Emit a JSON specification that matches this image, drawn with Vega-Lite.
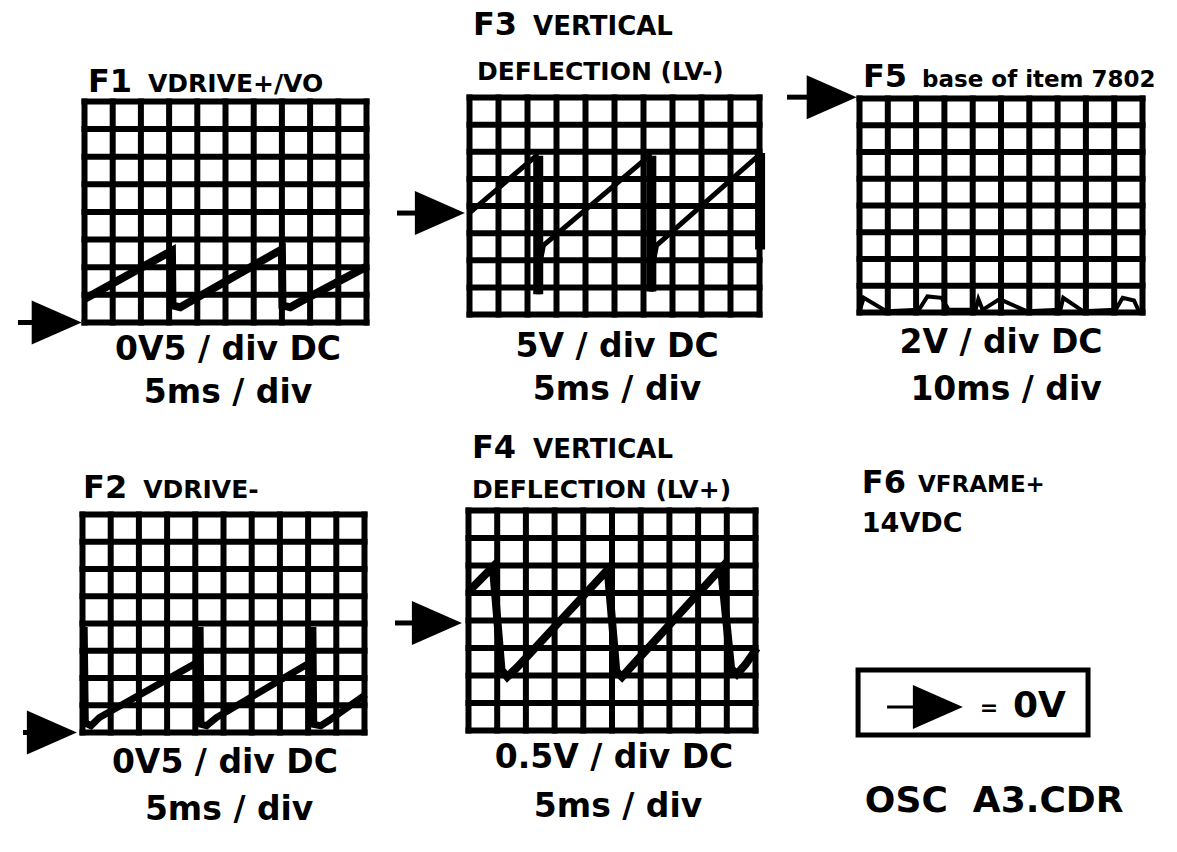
{
  "$schema": "https://vega.github.io/schema/vega-lite/v6.json",
  "padding": 0,
  "autosize": {"type": "pad"},
  "background": "white",
  "data": {"values": [{}]},
  "datasets": {
    "vgrid": [{"k":0},{"k":1},{"k":2},{"k":3},{"k":4},{"k":5},{"k":6},{"k":7},{"k":8},{"k":9},{"k":10}],
    "hgrid": [{"k":0},{"k":1},{"k":2},{"k":3},{"k":4},{"k":5},{"k":6},{"k":7},{"k":8}],
    "f1": [{"t":0,"v":0.85},{"t":3.1,"v":2.6},{"t":3.12,"v":0.62},{"t":3.4,"v":0.55},{"t":3.65,"v":0.7},{"t":7.0,"v":2.65},{"t":7.02,"v":0.62},{"t":7.3,"v":0.55},{"t":7.65,"v":0.75},{"t":10.05,"v":2.05}],
    "f2": [{"t":0.06,"v":3.87},{"t":0.1,"v":0.35},{"t":0.3,"v":0.25},{"t":0.6,"v":0.55},{"t":4.12,"v":2.6},{"t":4.17,"v":3.87},{"t":4.2,"v":0.3},{"t":4.4,"v":0.25},{"t":4.75,"v":0.55},{"t":8.12,"v":2.6},{"t":8.17,"v":3.87},{"t":8.2,"v":0.3},{"t":8.45,"v":0.25},{"t":8.75,"v":0.45},{"t":10.05,"v":1.4}],
    "f3": [{"t":0,"v":3.75},{"t":2.3,"v":5.85},{"t":2.37,"v":0.75},{"t":2.45,"v":2.0},{"t":2.55,"v":2.55},{"t":6.2,"v":5.85},{"t":6.27,"v":0.85},{"t":6.35,"v":2.0},{"t":6.45,"v":2.55},{"t":9.95,"v":5.85},{"t":10.02,"v":2.4}],
    "f3bar": [{"t":2.37,"lo":0.75,"hi":5.85},{"t":6.27,"lo":0.85,"hi":5.85},{"t":10.02,"lo":2.4,"hi":5.95}],
    "f4": [{"t":0,"v":5.05},{"t":0.85,"v":5.95},{"t":1.15,"v":2.2},{"t":1.35,"v":1.95},{"t":1.7,"v":2.3},{"t":4.85,"v":5.85},{"t":5.15,"v":2.15},{"t":5.35,"v":1.95},{"t":5.65,"v":2.3},{"t":8.8,"v":5.9},{"t":9.15,"v":2.25},{"t":9.35,"v":2.05},{"t":9.65,"v":2.4},{"t":10.05,"v":3.0}],
    "f5": [{"t":0,"v":0.05},{"t":0.15,"v":0.55},{"t":0.95,"v":0.05},{"t":2.1,"v":0.1},{"t":2.4,"v":0.6},{"t":2.9,"v":0.55},{"t":3.15,"v":0.1},{"t":4.1,"v":0.1},{"t":4.2,"v":0.5},{"t":4.35,"v":0.1},{"t":4.95,"v":0.5},{"t":5.9,"v":0.05},{"t":7.1,"v":0.1},{"t":7.2,"v":0.55},{"t":7.9,"v":0.05},{"t":9.05,"v":0.1},{"t":9.3,"v":0.55},{"t":9.7,"v":0.45},{"t":9.85,"v":0.1},{"t":10,"v":0.05}]
  },
  "columns": 3,
  "spacing": 0,
  "bounds": "flush",
  "align": "each",
  "config": {
    "view": {"stroke": null},
    "axis": {"disable": true},
    "text": {"font": "DejaVu Sans", "fontWeight": "bold", "baseline": "alphabetic", "color": "black"},
    "rule": {"color": "black"},
    "line": {"color": "black"},
    "rect": {"color": "black"},
    "point": {"color": "black"}
  },
  "concat": [
    {
      "width": 420, "height": 440,
      "layer": [
        {"data": {"name": "vgrid"}, "mark": {"type": "rule", "strokeWidth": 6, "strokeCap": "square"},
         "encoding": {"x": {"field": "k", "type": "quantitative", "scale": {"domain": [-2.9965, 11.8972], "nice": false, "zero": false}},
                      "y": {"datum": 0, "scale": {"domain": [-4.2534, 11.6742], "nice": false, "zero": false}}, "y2": {"datum": 8}}},
        {"data": {"name": "hgrid"}, "mark": {"type": "rule", "strokeWidth": 6, "strokeCap": "square"},
         "encoding": {"y": {"field": "k", "type": "quantitative"}, "x": {"datum": 0}, "x2": {"datum": 10}}},
        {"data": {"name": "f1"}, "mark": {"type": "line", "strokeWidth": 8},
         "encoding": {"x": {"field": "t", "type": "quantitative"}, "y": {"field": "v", "type": "quantitative"}}},
        {"mark": {"type": "rule", "strokeWidth": 5}, "encoding": {"x": {"datum": -2.36}, "x2": {"datum": -1.7}, "y": {"datum": 0}}},
        {"mark": {"type": "point", "shape": "M -2 -0.88 L 0 0 L -2 0.88 Z", "size": 2500, "filled": true, "opacity": 1},
         "encoding": {"x": {"datum": -0.1}, "y": {"datum": 0}}},
        {"mark": {"type": "text", "fontSize": 32, "align": "left", "text": "F1"}, "encoding": {"x": {"datum": 0.12}, "y": {"datum": 8.34}}},
        {"mark": {"type": "text", "fontSize": 25, "align": "left", "text": "VDRIVE+/VO"}, "encoding": {"x": {"datum": 2.25}, "y": {"datum": 8.34}}},
        {"mark": {"type": "text", "fontSize": 33, "align": "center", "text": "0V5 / div DC"}, "encoding": {"x": {"datum": 5.09}, "y": {"datum": -1.36}}},
        {"mark": {"type": "text", "fontSize": 33, "align": "center", "text": "5ms / div"}, "encoding": {"x": {"datum": 5.09}, "y": {"datum": -2.91}}}
      ]
    },
    {
      "width": 380, "height": 440,
      "layer": [
        {"data": {"name": "vgrid"}, "mark": {"type": "rule", "strokeWidth": 6, "strokeCap": "square"},
         "encoding": {"x": {"field": "k", "type": "quantitative", "scale": {"domain": [-1.7069, 11.3966], "nice": false, "zero": false}},
                      "y": {"datum": 0, "scale": {"domain": [-4.6267, 11.5945], "nice": false, "zero": false}}, "y2": {"datum": 8}}},
        {"data": {"name": "hgrid"}, "mark": {"type": "rule", "strokeWidth": 6, "strokeCap": "square"},
         "encoding": {"y": {"field": "k", "type": "quantitative"}, "x": {"datum": 0}, "x2": {"datum": 10}}},
        {"data": {"name": "f3"}, "mark": {"type": "line", "strokeWidth": 5},
         "encoding": {"x": {"field": "t", "type": "quantitative"}, "y": {"field": "v", "type": "quantitative"}}},
        {"data": {"name": "f3bar"}, "mark": {"type": "rule", "strokeWidth": 10},
         "encoding": {"x": {"field": "t", "type": "quantitative"}, "y": {"field": "lo", "type": "quantitative"}, "y2": {"field": "hi"}}},
        {"mark": {"type": "rule", "strokeWidth": 5}, "encoding": {"x": {"datum": -2.5}, "x2": {"datum": -1.8}, "y": {"datum": 3.74}}},
        {"mark": {"type": "point", "shape": "M -2 -0.88 L 0 0 L -2 0.88 Z", "size": 2500, "filled": true, "opacity": 1},
         "encoding": {"x": {"datum": -0.16}, "y": {"datum": 3.74}}},
        {"mark": {"type": "text", "fontSize": 32, "align": "left", "text": "F3"}, "encoding": {"x": {"datum": 0.12}, "y": {"datum": 10.3}}},
        {"mark": {"type": "text", "fontSize": 26, "align": "left", "text": "VERTICAL"}, "encoding": {"x": {"datum": 2.19}, "y": {"datum": 10.3}}},
        {"mark": {"type": "text", "fontSize": 25, "align": "left", "text": "DEFLECTION (LV-)"}, "encoding": {"x": {"datum": 0.26}, "y": {"datum": 8.65}}},
        {"mark": {"type": "text", "fontSize": 33, "align": "center", "text": "5V / div DC"}, "encoding": {"x": {"datum": 5.09}, "y": {"datum": -1.57}}},
        {"mark": {"type": "text", "fontSize": 33, "align": "center", "text": "5ms / div"}, "encoding": {"x": {"datum": 5.09}, "y": {"datum": -3.15}}}
      ]
    },
    {
      "width": 377, "height": 440,
      "layer": [
        {"data": {"name": "vgrid"}, "mark": {"type": "rule", "strokeWidth": 6, "strokeCap": "square"},
         "encoding": {"x": {"field": "k", "type": "quantitative", "scale": {"domain": [-2.1025, 11.2191], "nice": false, "zero": false}},
                      "y": {"datum": 0, "scale": {"domain": [-4.7664, 11.6822], "nice": false, "zero": false}}, "y2": {"datum": 8}}},
        {"data": {"name": "hgrid"}, "mark": {"type": "rule", "strokeWidth": 6, "strokeCap": "square"},
         "encoding": {"y": {"field": "k", "type": "quantitative"}, "x": {"datum": 0}, "x2": {"datum": 10}}},
        {"data": {"name": "f5"}, "mark": {"type": "line", "strokeWidth": 4},
         "encoding": {"x": {"field": "t", "type": "quantitative"}, "y": {"field": "v", "type": "quantitative"}}},
        {"mark": {"type": "rule", "strokeWidth": 5}, "encoding": {"x": {"datum": -2.56}, "x2": {"datum": -1.8}, "y": {"datum": 8.05}}},
        {"mark": {"type": "point", "shape": "M -2 -0.88 L 0 0 L -2 0.88 Z", "size": 2500, "filled": true, "opacity": 1},
         "encoding": {"x": {"datum": -0.1}, "y": {"datum": 8.05}}},
        {"mark": {"type": "text", "fontSize": 32, "align": "left", "text": "F5"}, "encoding": {"x": {"datum": 0.12}, "y": {"datum": 8.43}}},
        {"mark": {"type": "text", "fontSize": 23, "align": "left", "text": "base of item 7802"}, "encoding": {"x": {"datum": 2.21}, "y": {"datum": 8.43}}},
        {"mark": {"type": "text", "fontSize": 33, "align": "center", "text": "2V / div DC"}, "encoding": {"x": {"datum": 5.0}, "y": {"datum": -1.51}}},
        {"mark": {"type": "text", "fontSize": 33, "align": "center", "text": "10ms / div"}, "encoding": {"x": {"datum": 5.18}, "y": {"datum": -3.27}}}
      ]
    },
    {
      "width": 420, "height": 412,
      "layer": [
        {"data": {"name": "vgrid"}, "mark": {"type": "rule", "strokeWidth": 6, "strokeCap": "square"},
         "encoding": {"x": {"field": "k", "type": "quantitative", "scale": {"domain": [-2.9255, 11.9681], "nice": false, "zero": false}},
                      "y": {"datum": 0, "scale": {"domain": [-4.3853, 10.7339], "nice": false, "zero": false}}, "y2": {"datum": 8}}},
        {"data": {"name": "hgrid"}, "mark": {"type": "rule", "strokeWidth": 6, "strokeCap": "square"},
         "encoding": {"y": {"field": "k", "type": "quantitative"}, "x": {"datum": 0}, "x2": {"datum": 10}}},
        {"data": {"name": "f2"}, "mark": {"type": "line", "strokeWidth": 7},
         "encoding": {"x": {"field": "t", "type": "quantitative"}, "y": {"field": "v", "type": "quantitative"}}},
        {"mark": {"type": "rule", "strokeWidth": 5}, "encoding": {"x": {"datum": -2.11}, "x2": {"datum": -1.8}, "y": {"datum": 0}}},
        {"mark": {"type": "point", "shape": "M -2 -0.88 L 0 0 L -2 0.88 Z", "size": 2500, "filled": true, "opacity": 1},
         "encoding": {"x": {"datum": -0.2}, "y": {"datum": 0}}},
        {"mark": {"type": "text", "fontSize": 32, "align": "left", "text": "F2"}, "encoding": {"x": {"datum": 0.02}, "y": {"datum": 8.61}}},
        {"mark": {"type": "text", "fontSize": 25, "align": "left", "text": "VDRIVE-"}, "encoding": {"x": {"datum": 2.15}, "y": {"datum": 8.61}}},
        {"mark": {"type": "text", "fontSize": 33, "align": "center", "text": "0V5 / div DC"}, "encoding": {"x": {"datum": 5.05}, "y": {"datum": -1.49}}},
        {"mark": {"type": "text", "fontSize": 33, "align": "center", "text": "5ms / div"}, "encoding": {"x": {"datum": 5.2}, "y": {"datum": -3.21}}}
      ]
    },
    {
      "width": 380, "height": 412,
      "layer": [
        {"data": {"name": "vgrid"}, "mark": {"type": "rule", "strokeWidth": 6, "strokeCap": "square"},
         "encoding": {"x": {"field": "k", "type": "quantitative", "scale": {"domain": [-1.6899, 11.5505], "nice": false, "zero": false}},
                      "y": {"datum": 0, "scale": {"domain": [-4.4182, 10.5636], "nice": false, "zero": false}}, "y2": {"datum": 8}}},
        {"data": {"name": "hgrid"}, "mark": {"type": "rule", "strokeWidth": 6, "strokeCap": "square"},
         "encoding": {"y": {"field": "k", "type": "quantitative"}, "x": {"datum": 0}, "x2": {"datum": 10}}},
        {"data": {"name": "f4"}, "mark": {"type": "line", "strokeWidth": 8},
         "encoding": {"x": {"field": "t", "type": "quantitative"}, "y": {"field": "v", "type": "quantitative"}}},
        {"mark": {"type": "rule", "strokeWidth": 5}, "encoding": {"x": {"datum": -2.56}, "x2": {"datum": -1.9}, "y": {"datum": 3.91}}},
        {"mark": {"type": "point", "shape": "M -2 -0.88 L 0 0 L -2 0.88 Z", "size": 2500, "filled": true, "opacity": 1},
         "encoding": {"x": {"datum": -0.23}, "y": {"datum": 3.91}}},
        {"mark": {"type": "text", "fontSize": 32, "align": "left", "text": "F4"}, "encoding": {"x": {"datum": 0.12}, "y": {"datum": 9.91}}},
        {"mark": {"type": "text", "fontSize": 26, "align": "left", "text": "VERTICAL"}, "encoding": {"x": {"datum": 2.25}, "y": {"datum": 9.91}}},
        {"mark": {"type": "text", "fontSize": 25, "align": "left", "text": "DEFLECTION (LV+)"}, "encoding": {"x": {"datum": 0.12}, "y": {"datum": 8.45}}},
        {"mark": {"type": "text", "fontSize": 33, "align": "center", "text": "0.5V / div DC"}, "encoding": {"x": {"datum": 5.07}, "y": {"datum": -1.36}}},
        {"mark": {"type": "text", "fontSize": 33, "align": "center", "text": "5ms / div"}, "encoding": {"x": {"datum": 5.21}, "y": {"datum": -3.15}}}
      ]
    },
    {
      "width": 377, "height": 412,
      "layer": [
        {"mark": {"type": "rect", "fillOpacity": 0, "stroke": "black", "strokeWidth": 5},
         "encoding": {"x": {"datum": 15.4, "scale": {"domain": [0, 100], "nice": false, "zero": false}}, "x2": {"datum": 76.4},
                      "y": {"datum": 28.4, "scale": {"domain": [0, 100], "nice": false, "zero": false}}, "y2": {"datum": 44.2}}},
        {"mark": {"type": "rule", "strokeWidth": 3}, "encoding": {"x": {"datum": 23.1}, "x2": {"datum": 37}, "y": {"datum": 35.2}}},
        {"mark": {"type": "point", "shape": "M -2 -0.88 L 0 0 L -2 0.88 Z", "size": 2500, "filled": true, "opacity": 1},
         "encoding": {"x": {"datum": 43.2}, "y": {"datum": 35.2}}},
        {"mark": {"type": "text", "fontSize": 22, "align": "left", "text": "="}, "encoding": {"x": {"datum": 47.7}, "y": {"datum": 33.3}}},
        {"mark": {"type": "text", "fontSize": 36, "align": "left", "text": "0V"}, "encoding": {"x": {"datum": 56.5}, "y": {"datum": 32.8}}},
        {"mark": {"type": "text", "fontSize": 32, "align": "left", "text": "F6"}, "encoding": {"x": {"datum": 16.4}, "y": {"datum": 87.1}}},
        {"mark": {"type": "text", "fontSize": 23, "align": "left", "text": "VFRAME+"}, "encoding": {"x": {"datum": 31.3}, "y": {"datum": 87.4}}},
        {"mark": {"type": "text", "fontSize": 27, "align": "left", "text": "14VDC"}, "encoding": {"x": {"datum": 16.4}, "y": {"datum": 77.7}}},
        {"mark": {"type": "text", "fontSize": 36, "align": "left", "text": "OSC\u00a0\u00a0A3.CDR"}, "encoding": {"x": {"datum": 17.2}, "y": {"datum": 9.7}}}
      ]
    }
  ]
}
